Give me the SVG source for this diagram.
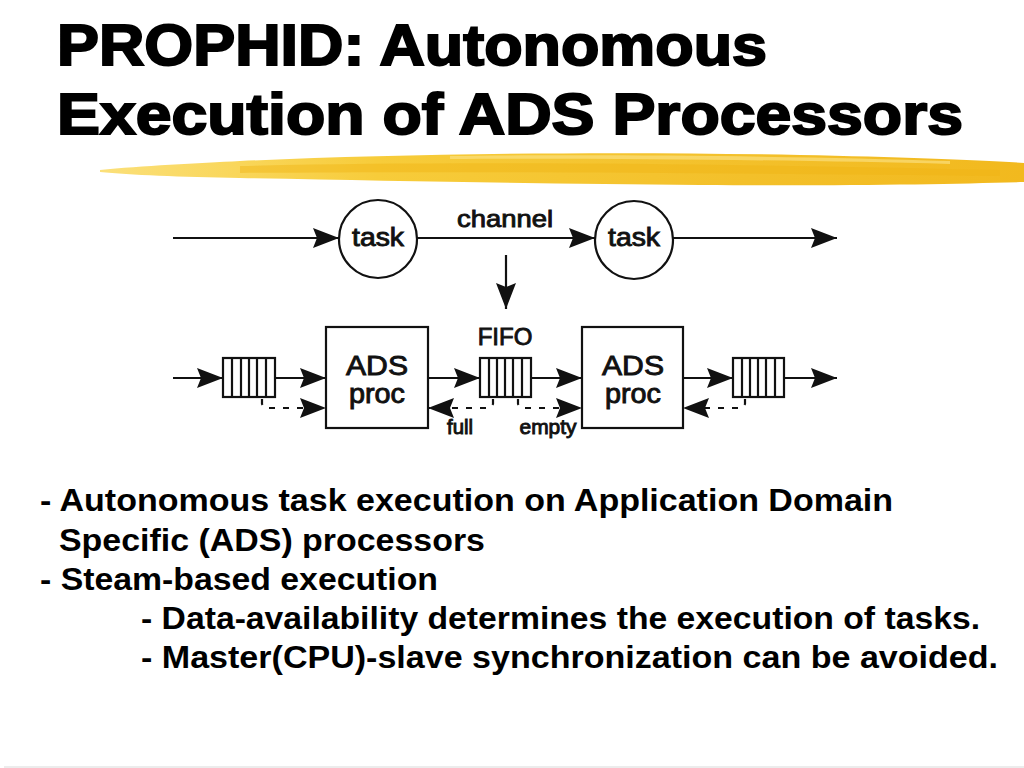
<svg xmlns="http://www.w3.org/2000/svg" width="1024" height="768" viewBox="0 0 1024 768">
<style>
.title{font-family:"Liberation Sans",Arial,sans-serif;font-weight:bold;font-size:57px;fill:#000;stroke:#000;stroke-width:2px}
.body{font-family:"Liberation Sans",Arial,sans-serif;font-weight:bold;font-size:31px;fill:#000}
.lbl{font-family:"Liberation Sans",Arial,sans-serif;fill:#111;stroke:#111;stroke-width:0.9px;text-anchor:middle}
.shape{fill:#fff;stroke:#111;stroke-width:2.2}
.ln{fill:none;stroke:#111;stroke-width:2.2}
.dash{fill:none;stroke:#111;stroke-width:2.2;stroke-dasharray:6 8}
</style>
<defs>
<marker id="ah" markerUnits="userSpaceOnUse" markerWidth="30" markerHeight="22" refX="26" refY="10" orient="auto">
<path d="M0,0 L26,10 L0,20 L4,10 Z" fill="#111"/>
</marker>
<linearGradient id="brush" x1="0" y1="0" x2="1" y2="0">
<stop offset="0" stop-color="#fbe07a"/>
<stop offset="0.3" stop-color="#f7cc3a"/>
<stop offset="0.7" stop-color="#f3c02a"/>
<stop offset="1" stop-color="#f2b91e"/>
</linearGradient>
</defs>
<rect width="1024" height="768" fill="#fff"/>
<line x1="4" y1="767" x2="1024" y2="767" stroke="#e6e6e6" stroke-width="1.5"/>

<g id="title">
<text class="title" x="57" y="65" textLength="710" lengthAdjust="spacingAndGlyphs">PROPHID: Autonomous</text>
<text class="title" x="57" y="134" textLength="906" lengthAdjust="spacingAndGlyphs">Execution of ADS Processors</text>
</g>

<g id="brush-stroke">
<path d="M100,170 C140,166 200,163 240,161 C400,154 600,151 800,155 C900,157 980,160 1024,163 L1024,182 C950,184 850,186 700,185 C550,184 400,181 240,178 C180,177 130,175 100,172 Z" fill="url(#brush)"/>
<path d="M240,166 C450,161 700,163 1000,170 L1000,176 C700,173 450,171 240,173 Z" fill="#efb414" opacity="0.45"/>
<path d="M450,156 C600,154 800,156 950,161 L950,164 C800,160 600,158 450,159 Z" fill="#fbe58c" opacity="0.6"/>
</g>

<g id="connectors">
<line class="ln" x1="173" y1="238" x2="339" y2="238" marker-end="url(#ah)"/>
<line class="ln" x1="417" y1="238" x2="595" y2="238" marker-end="url(#ah)"/>
<line class="ln" x1="673" y1="238" x2="837" y2="238" marker-end="url(#ah)"/>
<line class="ln" x1="506" y1="255" x2="506" y2="309" marker-end="url(#ah)"/>
<line class="ln" x1="173" y1="378" x2="223" y2="378" marker-end="url(#ah)"/>
<line class="ln" x1="275" y1="378" x2="326" y2="378" marker-end="url(#ah)"/>
<line class="ln" x1="428" y1="378" x2="480" y2="378" marker-end="url(#ah)"/>
<line class="ln" x1="531" y1="378" x2="582" y2="378" marker-end="url(#ah)"/>
<line class="ln" x1="683" y1="378" x2="733" y2="378" marker-end="url(#ah)"/>
<line class="ln" x1="784" y1="378" x2="837" y2="378" marker-end="url(#ah)"/>
<path class="dash" d="M262,399 L262,404 L265,408 L326,408" marker-end="url(#ah)"/>
<path class="dash" d="M493,399 L493,404 L490,408 L428,408" marker-end="url(#ah)"/>
<path class="dash" d="M518,399 L518,404 L521,408 L582,408" marker-end="url(#ah)"/>
<path class="dash" d="M745,399 L745,404 L742,408 L683,408" marker-end="url(#ah)"/>
</g>

<g id="task1">
<circle class="shape" cx="378" cy="239" r="39"/>
<text class="lbl" x="378" y="246" font-size="25" textLength="52" lengthAdjust="spacingAndGlyphs">task</text>
</g>
<g id="task2">
<circle class="shape" cx="634" cy="240" r="39"/>
<text class="lbl" x="634" y="246" font-size="25" textLength="52" lengthAdjust="spacingAndGlyphs">task</text>
</g>
<g id="channel-label">
<text class="lbl" x="505" y="227" font-size="24" textLength="96" lengthAdjust="spacingAndGlyphs">channel</text>
</g>

<g id="queue1">
<rect class="shape" x="223" y="358" width="52" height="39"/>
<path class="ln" d="M232,358V397M241,358V397M249,358V397M257,358V397M266,358V397"/>
</g>
<g id="proc1">
<rect class="shape" x="326" y="327" width="102" height="101"/>
<text class="lbl" x="377" y="375" font-size="27" textLength="62" lengthAdjust="spacingAndGlyphs">ADS</text>
<text class="lbl" x="377" y="403" font-size="27" textLength="56" lengthAdjust="spacingAndGlyphs">proc</text>
</g>
<g id="fifo">
<rect class="shape" x="480" y="358" width="51" height="39"/>
<path class="ln" d="M489,358V397M497,358V397M505,358V397M513,358V397M522,358V397"/>
<text class="lbl" x="505" y="345" font-size="24">FIFO</text>
</g>
<g id="proc2">
<rect class="shape" x="582" y="327" width="101" height="101"/>
<text class="lbl" x="633" y="375" font-size="27" textLength="62" lengthAdjust="spacingAndGlyphs">ADS</text>
<text class="lbl" x="633" y="403" font-size="27" textLength="56" lengthAdjust="spacingAndGlyphs">proc</text>
</g>
<g id="queue3">
<rect class="shape" x="733" y="358" width="51" height="39"/>
<path class="ln" d="M742,358V397M750,358V397M758,358V397M766,358V397M775,358V397"/>
</g>
<g id="flag-labels">
<text class="lbl" x="460" y="434" font-size="20" textLength="26" lengthAdjust="spacingAndGlyphs">full</text>
<text class="lbl" x="548" y="434" font-size="20" textLength="57" lengthAdjust="spacingAndGlyphs">empty</text>
</g>

<g id="bullets">
<text class="body" x="40" y="511" textLength="853" lengthAdjust="spacingAndGlyphs">- Autonomous task execution on Application Domain</text>
<text class="body" x="59" y="551" textLength="426" lengthAdjust="spacingAndGlyphs">Specific (ADS) processors</text>
<text class="body" x="40" y="590" textLength="398" lengthAdjust="spacingAndGlyphs">- Steam-based execution</text>
<text class="body" x="141" y="629" textLength="839" lengthAdjust="spacingAndGlyphs">- Data-availability determines the execution of tasks.</text>
<text class="body" x="141" y="668" textLength="857" lengthAdjust="spacingAndGlyphs">- Master(CPU)-slave synchronization can be avoided.</text>
</g>
</svg>
